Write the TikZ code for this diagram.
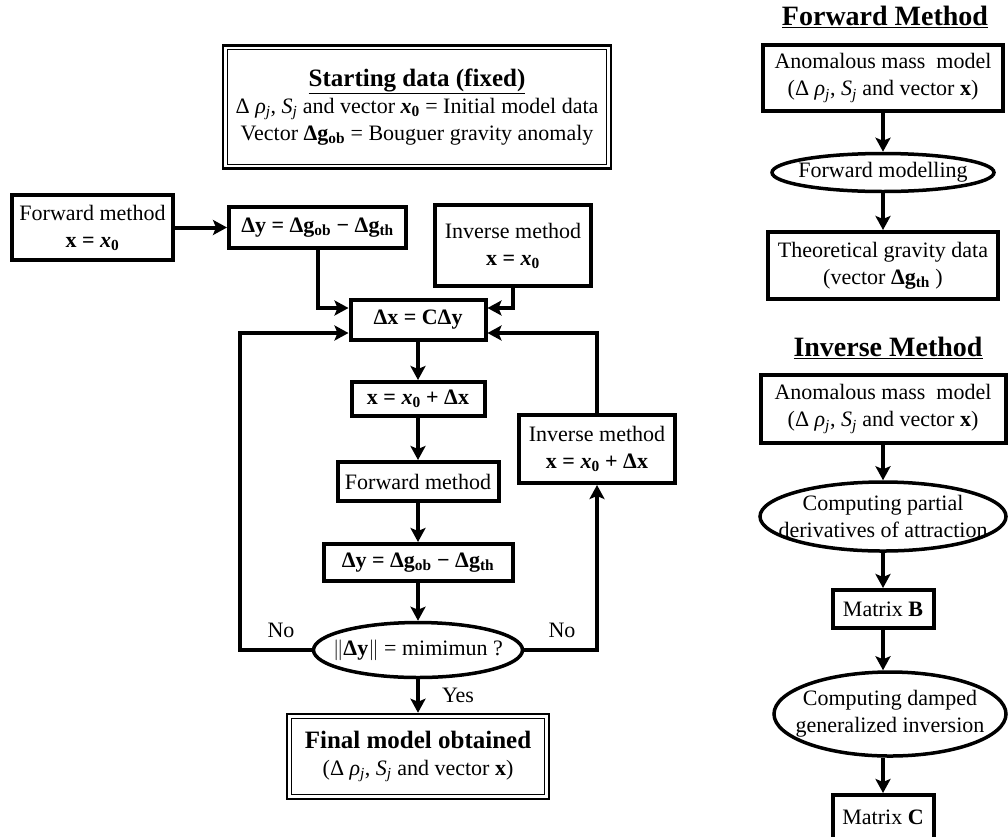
\documentclass[tikz,border=0pt]{standalone}
\usepackage{fontspec}
\setmainfont{Liberation Serif}
\usetikzlibrary{arrows.meta,shapes.geometric,calc}
\newcommand{\mysub}[1]{\textsubscript{#1}}
\tikzset{
  fs/.style={font=\fontsize{22}{27}\selectfont},
  box/.style={draw, line width=4pt, align=center, inner sep=0pt, fs},
  framebox/.style={draw, line width=2.5pt, align=center, inner sep=0pt, fs},
  oval/.style={draw, ellipse, line width=3.5pt, inner sep=0pt},
  txt/.style={align=center, inner sep=0pt, fs},
  arr/.style={line width=4pt, -{Stealth[length=14pt,width=15pt,inset=3pt]}},
  ttl/.style={font=\fontsize{28}{30}\selectfont\bfseries, inner sep=0pt}
}
\begin{document}
\begin{tikzpicture}[x=1pt,y=-1pt]
\useasboundingbox (0,0) rectangle (1008,836);
\clip (0,0) rectangle (1008,836);

% ---------- left flowchart ----------
\node[framebox, minimum width=388, minimum height=123] (start) at (417,107) {};
\draw[line width=1.2pt] ($(start.north west)+(5.5,5.5)$) rectangle ($(start.south east)+(-5.5,-5.5)$);
\node[txt] (starttxt) at (start) {{\fontsize{25}{27}\selectfont\bfseries\underline{Starting data (fixed)}}\\
  Δ \textit{ρ\mysub{j}}, \textit{S\mysub{j}} and vector \textbf{\textit{x}\mysub{0}} = Initial model data\\
  Vector \textbf{Δg\mysub{ob}} = Bouguer gravity anomaly};

\node[box, minimum width=161, minimum height=65] (fwd) at (92.5,227.5) {Forward method\\\textbf{x = \textit{x}\mysub{0}}};
\node[box, minimum width=177, minimum height=41] (dy1) at (317.5,227.5) {\textbf{Δy = Δg\mysub{ob} − Δg\mysub{th}}};
\node[box, minimum width=156, minimum height=81] (inv1) at (513,245.5) {Inverse method\\\textbf{x = \textit{x}\mysub{0}}};
\node[box, minimum width=135, minimum height=40] (dx) at (418,320) {\textbf{Δx = CΔy}};
\node[box, minimum width=133, minimum height=34] (xx) at (418,399) {\textbf{x = \textit{x}\mysub{0} + Δx}};
\node[box, minimum width=161, minimum height=39] (fwd2) at (418,481.5) {Forward method};
\node[box, minimum width=156, minimum height=68] (inv2) at (597,449) {Inverse method\\\textbf{x = \textit{x}\mysub{0} + Δx}};
\node[box, minimum width=189, minimum height=37] (dy2) at (418,562.5) {\textbf{Δy = Δg\mysub{ob} − Δg\mysub{th}}};
\node[oval, minimum width=209, minimum height=55] (ell) at (418,650) {};
\node[txt] (elltxt) at (ell) {$\|$\textbf{Δy}$\|$ = mimimun ?};
\node[framebox, minimum width=262, minimum height=85] (final) at (418,756.5) {};
\draw[line width=1.2pt] ($(final.north west)+(5.5,5.5)$) rectangle ($(final.south east)+(-5.5,-5.5)$);
\node[txt] (finaltxt) at (final) {{\fontsize{25}{29}\selectfont\bfseries Final model obtained}\\
  (Δ \textit{ρ\mysub{j}}, \textit{S\mysub{j}} and vector \textbf{x})};

\coordinate (lx) at (240,0);
\draw[arr] (fwd.east) -- (dy1.west);
\draw[arr] (dy1.south) |- ($(dx.west)+(0,-12)$);
\draw[arr] (inv1.south) |- ($(dx.east)+(0,-12)$);
\draw[arr] (dx.south) -- (xx.north);
\draw[arr] (xx.south) -- (fwd2.north);
\draw[arr] (fwd2.south) -- (dy2.north);
\draw[arr] (dy2.south) -- (ell.north);
\draw[arr] (ell.south) -- (final.north);
\draw[arr] (ell.west) -- (ell.west -| lx) |- ($(dx.west)+(0,13)$);
\draw[arr] (ell.east) -| (inv2.south);
\draw[arr] (inv2.north) |- ($(dx.east)+(0,13)$);
\node[fs] (no1) at (281,630) {No};
\node[fs] (no2) at (562,630) {No};
\node[fs] (yes) at (458,695) {Yes};

% ---------- right column ----------
\node[ttl] (ftitle) at (885,17) {\underline{Forward Method}};
\node[box, minimum width=240, minimum height=66] (rb1) at (883,78) {Anomalous mass\ \ model\\(Δ \textit{ρ\mysub{j}}, \textit{S\mysub{j}} and vector \textbf{x})};
\node[oval, minimum width=222, minimum height=38] (re1) at (883,172.5) {};
\node[txt] (re1t) at (re1) {Forward modelling};
\node[box, minimum width=230, minimum height=67] (rb2) at (883,265.5) {Theoretical gravity data\\(vector \textbf{Δg\mysub{th}} )};

\node[ttl] (ititle) at (888,348) {\underline{Inverse Method}};
\node[box, minimum width=245, minimum height=68] (rb3) at (883,409) {Anomalous mass\ \ model\\(Δ \textit{ρ\mysub{j}}, \textit{S\mysub{j}} and vector \textbf{x})};
\node[oval, minimum width=246, minimum height=69] (re2) at (883,516.5) {};
\node[txt] (re2t) at (re2) {Computing partial\\derivatives of attraction};
\node[box, minimum width=101, minimum height=38] (rb4) at (883,609) {Matrix \textbf{B}};
\node[oval, minimum width=232, minimum height=84] (re3) at (890,714) {};
\node[txt] (re3t) at (re3) {Computing damped\\generalized inversion};
\node[box, minimum width=101, minimum height=50] (rb5) at (883,820) {};
\node[txt] (rb5t) at (883,817) {Matrix \textbf{C}};

\draw[arr] (rb1.south) -- (re1.north);
\draw[arr] (re1.south) -- (rb2.north);
\draw[arr] (rb3.south) -- (re2.north);
\draw[arr] (re2.south) -- (rb4.north);
\draw[arr] (rb4.south) -- (rb4.south |- re3.north);
\draw[arr] (re3.south -| rb5.north) -- (rb5.north);
\end{tikzpicture}
\end{document}
